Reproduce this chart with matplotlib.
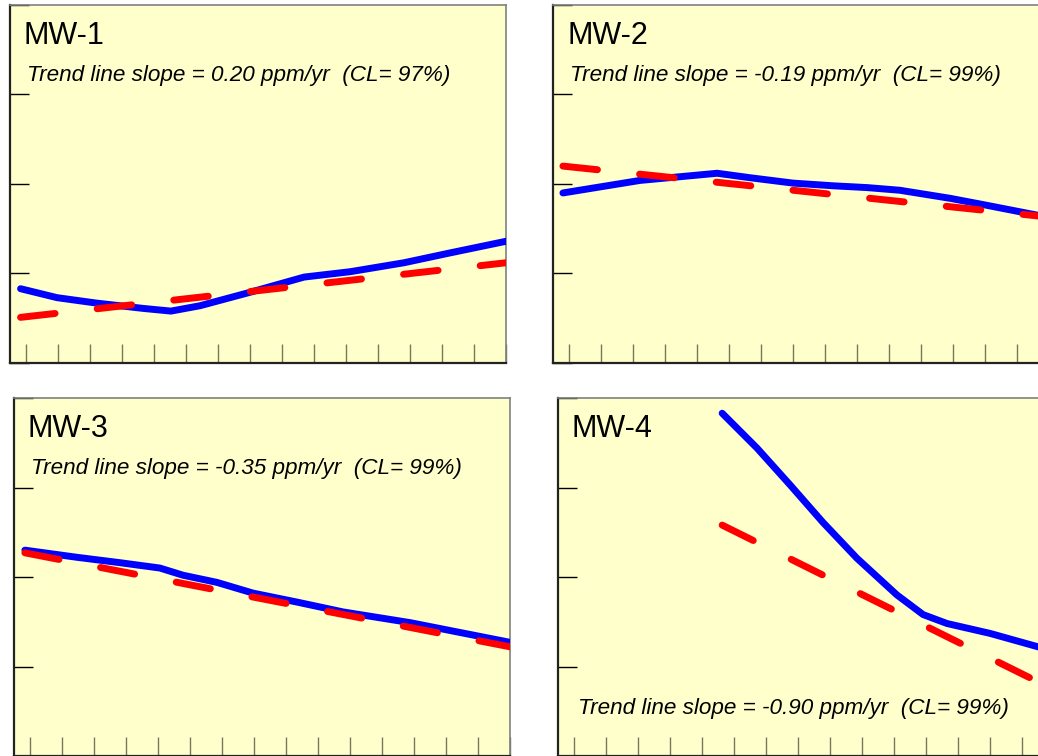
import matplotlib
matplotlib.use("Agg")
import matplotlib.pyplot as plt

plt.rcParams["font.family"] = ["Liberation Sans", "DejaVu Sans"]
plt.rcParams["lines.scale_dashes"] = False

# x in tick units (0..15), y in tick units (0..4)
mw1_x = [-0.17, 0.97, 2.19, 3.66, 4.53, 5.44, 7.0, 8.69, 10.13, 11.81, 13.25, 15.0]
mw1_y = [0.83, 0.73, 0.67, 0.61, 0.58, 0.64, 0.79, 0.96, 1.02, 1.12, 1.23, 1.36]
mw1_trend_x = [-0.17, 15.0]
mw1_trend_y = [0.51, 1.12]

mw2_x = [-0.19, 2.22, 4.63, 5.66, 7.0, 8.25, 9.31, 10.34, 11.91, 12.94, 14.66, 15.0]
mw2_y = [1.90, 2.04, 2.12, 2.07, 2.01, 1.98, 1.96, 1.93, 1.84, 1.77, 1.65, 1.63]
mw2_trend_x = [-0.19, 15.0]
mw2_trend_y = [2.20, 1.63]

mw3_x = [-0.16, 1.47, 2.81, 4.06, 4.78, 5.84, 6.97, 8.34, 9.78, 11.88, 15.0]
mw3_y = [2.30, 2.22, 2.16, 2.10, 2.02, 1.94, 1.82, 1.72, 1.61, 1.49, 1.27]
mw3_trend_x = [-0.16, 15.0]
mw3_trend_y = [2.27, 1.22]

mw4_x = [4.63, 5.72, 6.75, 7.78, 8.84, 10.09, 10.91, 11.66, 13.0, 14.5, 15.0]
mw4_y = [3.83, 3.44, 3.03, 2.61, 2.21, 1.80, 1.58, 1.48, 1.37, 1.22, 1.17]
mw4_trend_x = [4.63, 15.0]
mw4_trend_y = [2.58, 0.74]

wells = ["MW-1", "MW-2", "MW-3", "MW-4"]
slopes = ["0.20", "-0.19", "-0.35", "-0.90"]
conf = ["97%", "99%", "99%", "99%"]

W, H = 1038, 756
fig = plt.figure(figsize=(W / 100, H / 100), dpi=100)
fig.patch.set_facecolor("white")

# panel boxes in pixels: left, top
boxes = [(10, 5), (553, 5), (14, 398), (558, 398)]
pw, ph = 496, 358
series = [
    (mw1_x, mw1_y, mw1_trend_x, mw1_trend_y),
    (mw2_x, mw2_y, mw2_trend_x, mw2_trend_y),
    (mw3_x, mw3_y, mw3_trend_x, mw3_trend_y),
    (mw4_x, mw4_y, mw4_trend_x, mw4_trend_y),
]

for i, ((left, top), (x, y, tx, ty)) in enumerate(zip(boxes, series)):
    ax = fig.add_axes([left / W, (H - top - ph) / H, pw / W, ph / H])
    ax.set_facecolor("#ffffcc")
    ax.set_xlim(-0.5, 15)
    ax.set_ylim(0, 4)
    ax.set_xticks(range(16))
    ax.set_yticks(range(5))
    ax.set_xticklabels([])
    ax.set_yticklabels([])
    ax.tick_params(axis="x", direction="in", length=14, width=1, color="#77775a")
    ax.tick_params(axis="y", direction="in", length=14, width=1, color="black")
    ax.spines["left"].set_color("#222222")
    ax.spines["bottom"].set_color("#222222")
    ax.spines["left"].set_linewidth(1.6)
    ax.spines["bottom"].set_linewidth(1.6)
    for s in ("top", "right"):
        ax.spines[s].set_color("#808080")
        ax.spines[s].set_linewidth(1.2)

    ax.plot(x, y, color="#0000ff", lw=5, solid_capstyle="round",
            solid_joinstyle="round", zorder=3)
    ax.plot(tx, ty, color="#ff0000", lw=5, dashes=(25, 30.5),
            dash_capstyle="round", zorder=4)

    ax.text(14 / pw, 1 - 39 / ph, wells[i], transform=ax.transAxes,
            fontsize=22, ha="left", va="baseline", color="black")
    label = f"Trend line slope = {slopes[i]} ppm/yr  (CL= {conf[i]})"
    if i < 3:
        ty_frac = 1 - 76 / ph
        tx_frac = 17 / pw
    else:
        ty_frac = 1 - 316 / ph
        tx_frac = 20 / pw
    ax.text(tx_frac, ty_frac, label, transform=ax.transAxes, fontsize=16.2,
            style="italic", ha="left", va="baseline", color="black")

fig.savefig("out.png", dpi=100, facecolor="white")
